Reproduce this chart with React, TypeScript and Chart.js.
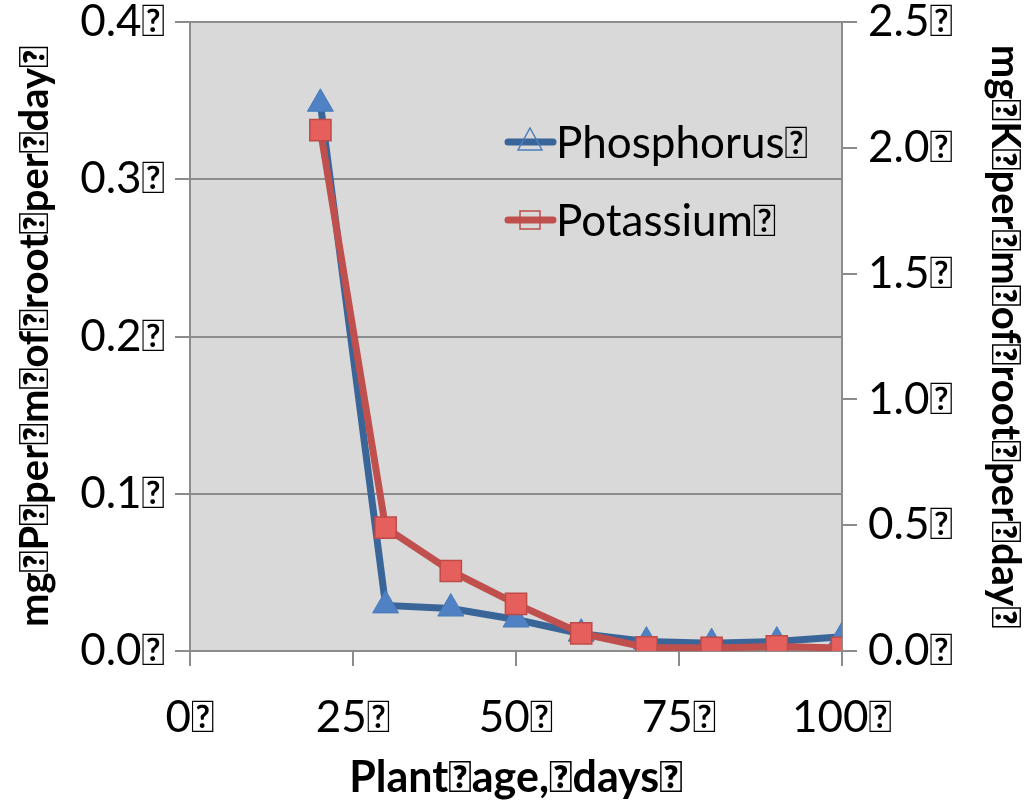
import React, { useEffect, useRef } from "react";
import { Chart, registerables } from "chart.js";

Chart.register(...registerables);

const BOX = "\uF020";

const days = [20, 30, 40, 50, 60, 70, 80, 90, 100];
const phosphorus = [0.348, 0.029, 0.027, 0.02, 0.011, 0.006, 0.005, 0.006, 0.009];
const potassium = [2.07, 0.49, 0.318, 0.187, 0.07, 0.014, 0.012, 0.018, 0.012];
const seriesNames = ["Phosphorus" + BOX, "Potassium" + BOX];
const xTickValues = [0, 25, 50, 75, 100];
const leftTickValues = [0, 0.1, 0.2, 0.3, 0.4];
const rightTickValues = [0, 0.5, 1.0, 1.5, 2.0, 2.5];
const xTitle = "Plant" + BOX + "age," + BOX + "days" + BOX;
const leftTitle = "mg" + BOX + "P" + BOX + "per" + BOX + "m" + BOX + "of" + BOX + "root" + BOX + "per" + BOX + "day" + BOX;
const rightTitle = "mg" + BOX + "K" + BOX + "per" + BOX + "m" + BOX + "of" + BOX + "root" + BOX + "per" + BOX + "day" + BOX;

const FONT = "Lato";
const GRID = "#8c8c8c";
const BLUE_LINE = "#3a6598";
const BLUE_MARK = "#4f81c4";
const RED_LINE = "#c0504d";
const RED_MARK = "#e5605d";

const bgPlugin = {
  id: "plotBg",
  beforeDraw(chart: any) {
    const { ctx, chartArea } = chart;
    ctx.save();
    ctx.fillStyle = "#d9d9d9";
    ctx.fillRect(chartArea.left, chartArea.top, chartArea.right - chartArea.left, chartArea.bottom - chartArea.top);
    ctx.restore();
  },
};

const legendPlugin = {
  id: "innerLegend",
  afterDatasetsDraw(chart: any) {
    const { ctx, chartArea } = chart;
    const x0 = chartArea.left + 318;
    const rows = [chartArea.top + 120, chartArea.top + 198];
    chart.data.datasets.forEach((ds: any, i: number) => {
      const y = rows[i];
      ctx.save();
      ctx.strokeStyle = ds.borderColor;
      ctx.lineWidth = 7;
      ctx.lineCap = "round";
      ctx.beginPath();
      ctx.moveTo(x0, y);
      ctx.lineTo(x0 + 45, y);
      ctx.stroke();
      ctx.lineWidth = 1.5;
      ctx.strokeStyle = ds.pointBorderColor;
      const cx = x0 + 22;
      if (ds.pointStyle === "triangle") {
        ctx.beginPath();
        ctx.moveTo(cx, y - 14);
        ctx.lineTo(cx + 12, y + 8);
        ctx.lineTo(cx - 12, y + 8);
        ctx.closePath();
        ctx.stroke();
      } else {
        ctx.strokeRect(cx - 10, y - 9, 20, 18);
      }
      ctx.fillStyle = "#000";
      ctx.font = `44px ${FONT}`;
      ctx.textBaseline = "middle";
      ctx.textAlign = "left";
      ctx.fillText(ds.label, x0 + 48, y + 2);
      ctx.restore();
    });
  },
};

export default function App() {
  const ref = useRef<HTMLCanvasElement | null>(null);
  useEffect(() => {
    document.body.style.margin = "0";
    const canvas = ref.current!;
    const xTickFont = { family: FONT, size: 44, lineHeight: 1 };
    const yTickFont = { family: FONT, size: 44, lineHeight: "20px" };
    const xTitleFont = { family: FONT, size: 43, weight: "bold" as const, lineHeight: 1 };
    const yTitleFont = { family: FONT, size: 40, weight: "bold" as const, lineHeight: "40px" };
    const chart = new Chart(canvas, {
      type: "line",
      data: {
        datasets: [
          {
            label: seriesNames[0],
            data: days.map((d, i) => ({ x: d, y: phosphorus[i] })),
            yAxisID: "y",
            borderColor: BLUE_LINE,
            borderWidth: 7,
            pointStyle: "triangle",
            pointRadius: 15,
            pointBackgroundColor: BLUE_MARK,
            pointBorderColor: "#4a7ebb",
            pointBorderWidth: 1,
            order: 1,
          } as any,
          {
            label: seriesNames[1],
            data: days.map((d, i) => ({ x: d, y: potassium[i] })),
            yAxisID: "y1",
            borderColor: RED_LINE,
            borderWidth: 7,
            pointStyle: "rect",
            pointRadius: 15,
            pointBackgroundColor: RED_MARK,
            pointBorderColor: "#be4b48",
            pointBorderWidth: 1.5,
            order: 0,
          } as any,
        ],
      },
      options: {
        animation: false,
        responsive: false,
        maintainAspectRatio: false,
        devicePixelRatio: 1,
        layout: { padding: { top: 22, left: 0, right: 0, bottom: 0 } },
        plugins: { legend: { display: false }, tooltip: { enabled: false } },
        scales: {
          x: {
            type: "linear",
            min: 0,
            max: 100,
            afterBuildTicks: (s: any) => {
              s.ticks = xTickValues.map((v) => ({ value: v }));
            },
            ticks: { font: xTickFont, color: "#000", padding: 30, maxRotation: 0, callback: (v: any) => v + BOX },
            grid: { drawOnChartArea: false, drawTicks: true, tickLength: 15, color: GRID, lineWidth: 2 },
            border: { display: true, color: GRID, width: 2 },
            title: { display: true, text: xTitle, font: xTitleFont, color: "#000", padding: { top: 0, bottom: 6 } },
            afterFit: (s: any) => {
              s.height = 155;
            },
          },
          y: {
            type: "linear",
            position: "left",
            min: 0,
            max: 0.4,
            afterBuildTicks: (s: any) => {
              s.ticks = leftTickValues.map((v) => ({ value: v }));
            },
            ticks: { font: yTickFont, color: "#000", padding: 10, callback: (v: any) => Number(v).toFixed(1) + BOX },
            grid: { color: GRID, lineWidth: 2, tickLength: 15 },
            border: { display: true, color: GRID, width: 2 },
            title: { display: true, text: leftTitle, font: yTitleFont, color: "#000", padding: { top: 15, bottom: 0 } },
            afterFit: (s: any) => {
              s.width = 190;
            },
          },
          y1: {
            type: "linear",
            position: "right",
            min: 0,
            max: 2.5,
            afterBuildTicks: (s: any) => {
              s.ticks = rightTickValues.map((v) => ({ value: v }));
            },
            ticks: { font: yTickFont, color: "#000", padding: 11, callback: (v: any) => Number(v).toFixed(1) + BOX },
            grid: { drawOnChartArea: false, color: GRID, lineWidth: 2, tickLength: 15 },
            border: { display: true, color: GRID, width: 2 },
            title: { display: true, text: rightTitle, font: { ...yTitleFont, lineHeight: "36px" }, color: "#000", padding: { top: 1, bottom: 0 } },
            afterFit: (s: any) => {
              s.width = 182;
            },
          },
        },
      } as any,
      plugins: [bgPlugin, legendPlugin],
    });
    return () => chart.destroy();
  }, []);
  return <canvas ref={ref} width={1024} height={806} style={{ display: "block" }} />;
}
